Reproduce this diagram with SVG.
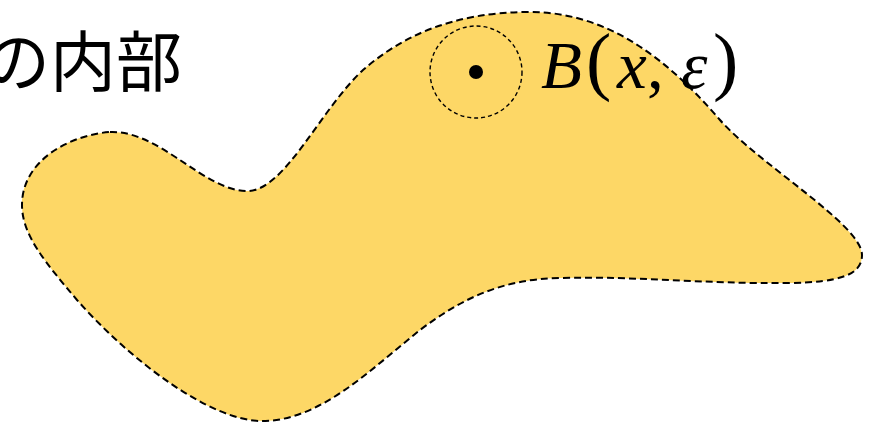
<svg xmlns="http://www.w3.org/2000/svg" width="874" height="424" viewBox="0 0 874 424">
<style>
.blob{fill:#FDD766;stroke:#000;stroke-width:2;stroke-dasharray:7,4}
.ball{fill:none;stroke:#000;stroke-width:1.4;stroke-dasharray:4,3}
.jp{font-family:"Noto Sans CJK JP",sans-serif;font-size:66px;fill:#000}
.math{font-family:"Liberation Serif",serif;font-size:67px;fill:#000}
.it{font-style:italic}
.par{font-size:76px}
</style>
<rect width="874" height="424" fill="#fff"/>
<g id="region">
<path class="blob" d="M110,132 C160,130 205,192 248,191 C285,190 320,110 363,70 C400,38 450,12 530,12 C610,12 670,62 720,120 C760,165 862,225 862,255 C862,275 840,282 790,283 C700,284 640,276 560,278 C500,279 460,300 420,330 C370,370 320,421 262,421 C210,421 130,360 77,300 C45,262 22,235 22,205 C22,160 70,135 110,132 Z"/>
</g>
<g id="ball">
<circle class="ball" cx="476" cy="72" r="46"/>
<circle cx="476" cy="72" r="7" fill="#000"/>
</g>
<g id="labels">
<text class="jp" x="-16" y="86">の内部</text>
<text class="math" y="88"><tspan class="it" x="541">B</tspan><tspan class="par" x="586" y="86">(</tspan><tspan class="it" x="617" y="88">x</tspan><tspan x="647">,</tspan><tspan class="it" x="681">ε</tspan><tspan class="par" x="713" y="86">)</tspan></text>
</g>
</svg>
